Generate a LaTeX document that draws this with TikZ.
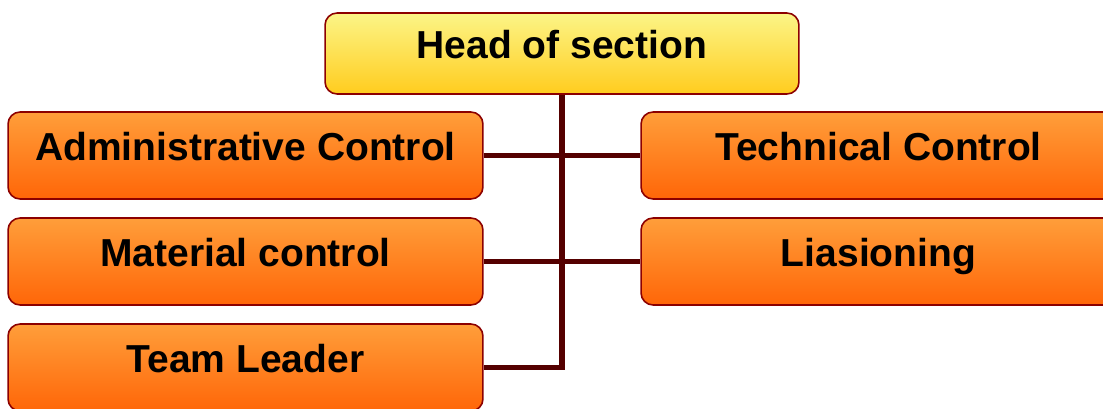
\documentclass[tikz,border=0pt]{standalone}
\usepackage{fontspec}
\setmainfont{Liberation Sans}
\tikzset{
    box/.style={draw=red!55!black, line width=0.9pt, rounded corners=0.24cm,
        minimum width=9.5cm, minimum height=1.74cm, inner sep=0pt,
        text height=0.56cm, text depth=0.36cm,
        font=\fontsize{22.2}{26}\selectfont\bfseries},
    headbox/.style={box, minimum height=1.62cm,
        top color={rgb,255:red,252;green,245;blue,135}, bottom color={rgb,255:red,255;green,204;blue,30}},
    unitbox/.style={box,
        top color={rgb,255:red,255;green,158;blue,58}, bottom color={rgb,255:red,255;green,102;blue,8}},
    link/.style={draw={rgb,255:red,85;green,0;blue,0}, line width=3.4pt}
}
\begin{document}
\begin{tikzpicture}[x=0.02cm, y=-0.02cm]
    \useasboundingbox (0, 0) rectangle (1103, 409);
    \clip (0, 0) rectangle (1103, 409);

    \node[headbox, minimum width=9.48cm] (head) at (562, 53.5) {Head of section}; % top box

    \node[unitbox] (admin) at (245.5, 155.5) {Administrative Control};
    \node[unitbox] (material) at (245.5, 261.5) {Material control};
    \node[unitbox] (leader) at (245.5, 367.5) {Team Leader};
    \node[unitbox] (tech) at (878.5, 155.5) {Technical Control};
    \node[unitbox] (liaison) at (878.5, 261.5) {Liasioning};

    % connectors
    \draw[link] (head.south) -- (head.south |- leader.east) -- (leader.east);
    \draw[link] (admin.east) -- (tech.west);
    \draw[link] (material.east) -- (liaison.west);

\end{tikzpicture}
\end{document}
